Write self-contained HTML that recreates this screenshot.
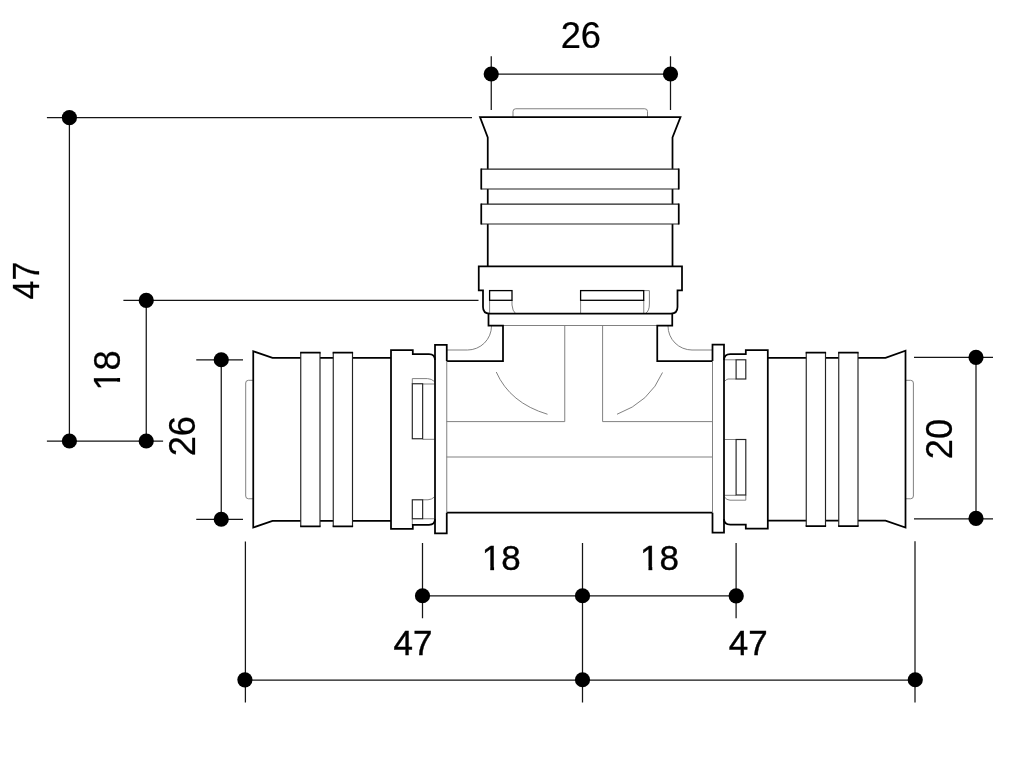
<!DOCTYPE html>
<html>
<head>
<meta charset="utf-8">
<title>Tee fitting dimensions</title>
<style>
html,body{margin:0;padding:0;background:#fff;}
body{width:1024px;height:767px;overflow:hidden;}
svg{display:block;will-change:transform;}
.k{fill:none;stroke:#000;stroke-width:1.75;stroke-linejoin:miter;stroke-linecap:butt;}
.kw{fill:#fff;stroke:#000;stroke-width:1.75;stroke-linejoin:miter;}
.m{fill:none;stroke:#000;stroke-width:1.3;}
.w{fill:none;stroke:#222;stroke-width:1.15;}
.mw{fill:#fff;stroke:#000;stroke-width:1.3;}
.g{fill:none;stroke:#7a7a7a;stroke-width:0.95;}
.d{fill:none;stroke:#151515;stroke-width:1.25;}
.dot{fill:#000;stroke:none;}
text{font-family:"Liberation Sans",Arial,Helvetica,sans-serif;fill:#000;}
.t1{font-size:37.4px;stroke:#000;stroke-width:0.25;}
.t2{font-size:35.5px;stroke:#000;stroke-width:0.4;}
</style>
</head>
<body>
<svg width="1024" height="767" viewBox="0 0 1024 767">
<rect x="0" y="0" width="1024" height="767" fill="#fff"/>

<!-- ===== dimension lines ===== -->
<g class="d">
  <!-- top 26 -->
  <path d="M491.25,56.25V110M670.5,56.25V110M491.25,74H670.5"/>
  <!-- left 47 -->
  <path d="M46.9,117.7H472M69.4,117.7V441M46.9,441H163.1"/>
  <!-- left 18 -->
  <path d="M123.4,300.4H478.5M146.25,300.4V441"/>
  <!-- left 26 -->
  <path d="M196.25,359.75H243M196.25,519.25H243M221.25,359.75V519.25"/>
  <!-- right 20 -->
  <path d="M914,357.3H993M914,518.9H993M976,357.3V518.9"/>
  <!-- bottom -->
  <path d="M245.4,541.5V702.5M915,541.25V702.5M582.5,543V702.5M422.5,543V618.2M736.1,543V618.2"/>
  <path d="M422.5,595.75H736M245,680H915"/>
</g>
<g class="dot">
  <circle cx="491.25" cy="74" r="7.6"/><circle cx="670.5" cy="74" r="7.6"/>
  <circle cx="69.4" cy="117.7" r="7.6"/><circle cx="69.4" cy="441" r="7.6"/>
  <circle cx="146.25" cy="300.4" r="7.6"/><circle cx="146.25" cy="441" r="7.6"/>
  <circle cx="221.25" cy="359.75" r="7.6"/><circle cx="221.25" cy="519.25" r="7.6"/>
  <circle cx="976" cy="357.3" r="7.6"/><circle cx="976" cy="518.4" r="7.6"/>
  <circle cx="422.5" cy="595.75" r="7.6"/><circle cx="582.5" cy="595.75" r="7.6"/><circle cx="736.2" cy="595.9" r="7.6"/>
  <circle cx="244.9" cy="679.8" r="7.6"/><circle cx="582.5" cy="679.75" r="7.6"/><circle cx="915.25" cy="679.75" r="7.6"/>
</g>

<!-- ===== labels ===== -->
<defs><clipPath id="c1" clipPathUnits="userSpaceOnUse"><rect x="-37.40" y="-37.40" width="74.80" height="33.78"/><rect x="-11.62" y="-4.12" width="3.75" height="4.64"/><rect x="-0.75" y="-4.12" width="37.40" height="7.48"/></clipPath><clipPath id="c2" clipPathUnits="userSpaceOnUse"><rect x="-35.50" y="-35.50" width="71.00" height="31.90"/><rect x="-11.17" y="-4.10" width="3.83" height="4.75"/><rect x="-0.71" y="-4.10" width="35.50" height="7.10"/></clipPath></defs>
<g text-anchor="middle">
<text class="t1" transform="translate(580.8,48.4) scale(0.97,1)">26</text>
<text class="t1" style="font-size:36.2px" transform="translate(39,280.6) rotate(-90) scale(0.935,1)">47</text>
<text class="t1" clip-path="url(#c1)" transform="translate(120.1,370.4) rotate(-90) scale(0.97,1)">18</text>
<text class="t1" transform="translate(195.4,436.2) rotate(-90) scale(0.97,1)">26</text>
<text class="t1" transform="translate(952,439.1) rotate(-90) scale(0.965,1)">20</text>
<text class="t2" clip-path="url(#c2)" transform="translate(501.3,570.2) scale(0.985,1)">18</text>
<text class="t2" clip-path="url(#c2)" transform="translate(659.5,570.2) scale(0.985,1)">18</text>
<text class="t2" transform="translate(413,655) scale(0.985,1)">47</text>
<text class="t2" transform="translate(748.2,655) scale(0.985,1)">47</text>
</g>

<!-- ===== thin gray construction lines ===== -->
<g class="g">
  <!-- pipe ends -->
  <path d="M513,117V111.5Q513,108.75 515.75,108.75H644.75Q647.5,108.75 647.5,111.5V117"/>
  <path d="M253.25,380.3H248.5Q245.7,380.3 245.7,383V496Q245.7,498.75 248.5,498.75H253.25"/>
  <path d="M905.5,380.3H910.6Q913.4,380.3 913.4,383V496Q913.4,498.75 910.6,498.75H905.5"/>
  <!-- tee body -->
  <path d="M503,325.5H657.25"/>
  <path d="M564.75,325.5V421.6H446.5M602.6,325.5V421.6H712"/>
  <path d="M446.5,457H712"/>
  <path d="M447,350H467.5A24,24 0 0 0 491.5,326"/>
  <path d="M712,350H692A24,24 0 0 1 668,326"/>
  <path d="M496.25,372Q510,403 547.5,414.25"/>
  <path d="M662.5,372.5Q650,402 617,414.25"/>
  <!-- top collar windows -->
  <path d="M489.6,300V313.5M512,300V305Q512.5,311 515.5,313.5"/>
  <path d="M580.6,300V313.5M643.75,300V313.5M643.75,290.6H649.4V304Q649.4,311 645.5,313.5"/>
  <!-- left collar windows -->
  <path d="M412.3,383.75V378.6H427.5Q431.5,378.8 434.3,381.4M422.65,384H434.3M422.65,439.3H434.3"/>
  <path d="M422.65,499.8H428Q432,499.5 434.3,497M422.65,518.75H434.3M412.3,518.75V524.8"/>
  <!-- right collar windows -->
  <path d="M724.5,359.8H736.1M736.1,379H728Q726,379.5 724.5,381.5"/>
  <path d="M724.5,439.5H736.1M724.5,495.3H736.1M745.8,495V500.2H730Q726.5,500 724.8,497.3"/>
</g>

<!-- ===== top branch ===== -->
<path class="kw" d="M487.75,266.25V137.5L480,117H680.5L672.5,137.5V266.25"/>
<rect x="481.25" y="169.1" width="197.5" height="19.900000000000006" fill="#fff"/><path class="w" d="M481.25,169.1H678.75M481.25,189H678.75"/><path class="k" d="M481.25,168.5V189.6M678.75,168.5V189.6"/>
<rect x="481.25" y="204.1" width="197.5" height="19.900000000000006" fill="#fff"/><path class="w" d="M481.25,204.1H678.75M481.25,224H678.75"/><path class="k" d="M481.25,203.5V224.6M678.75,203.5V224.6"/>
<path class="k" d="M478.75,266.25H682V290.4H677.5V307Q677.5,313.5 671,313.5H489.5Q483,313.5 483,307V290.4H478.75Z"/>
<rect class="m" x="489.6" y="290.6" width="22.4" height="9.7"/>
<rect class="m" x="580.6" y="290.6" width="63.1" height="9.7"/>
<path class="k" d="M488.5,313.5V325.5H503V361H446.75"/>
<path class="k" d="M672.25,313.5V325.5H657.25V361H712.5"/>

<!-- ===== tee body ===== -->
<path class="k" d="M446.75,512.65H712.5"/>
<!-- flanges -->
<path class="g" d="M446.75,361V512.65"/>
<path class="k" d="M446.75,361V344.8H435V533.3H446.75V512.65"/>
<path class="g" d="M712.5,361V512.65"/>
<path class="k" d="M712.5,361V344.5H724V532.5H712.5V512.65"/>

<!-- ===== left fitting ===== -->
<path class="k" d="M391,357.9H272.5L253.25,351.25V527.5L272.5,520.9H391"/>
<rect x="300.75" y="352.5" width="19.25" height="173.89999999999998" fill="#fff"/><path class="w" d="M300.75,352.5V526.4M320,352.5V526.4"/><path class="k" d="M300.15,352.5H320.6M300.15,526.4H320.6"/>
<rect x="333.25" y="352.5" width="19.25" height="173.89999999999998" fill="#fff"/><path class="w" d="M333.25,352.5V526.4M352.5,352.5V526.4"/><path class="k" d="M332.65,352.5H353.1M332.65,526.4H353.1"/>
<path class="k" d="M435,360Q435,354 429,354H412.8V350H391V528.9H412.8V524.8H429Q435,524.8 435,519"/>
<rect class="w" x="412.3" y="383.75" width="10.35" height="55"/>
<rect class="w" x="412.3" y="499.8" width="10.35" height="18.95"/>

<!-- ===== right fitting ===== -->
<path class="k" d="M767.8,357.9H885.5L905.5,350.75V527.5L885.5,520.7H767.8"/>
<rect x="806.25" y="352.5" width="19.25" height="173.70000000000005" fill="#fff"/><path class="w" d="M806.25,352.5V526.2M825.5,352.5V526.2"/><path class="k" d="M805.65,352.5H826.1M805.65,526.2H826.1"/>
<rect x="838.75" y="352.5" width="19.25" height="173.70000000000005" fill="#fff"/><path class="w" d="M838.75,352.5V526.2M858,352.5V526.2"/><path class="k" d="M838.15,352.5H858.6M838.15,526.2H858.6"/>
<path class="k" d="M724,360Q724,354 730.3,354H745.8V350H767.8V528.7H745.8V524.6H730.3Q724,524.6 724,519"/>
<rect class="w" x="736.1" y="359.8" width="9.7" height="19.2"/>
<rect class="w" x="736.1" y="439.5" width="9.7" height="55.5"/>
</svg>
</body>
</html>
